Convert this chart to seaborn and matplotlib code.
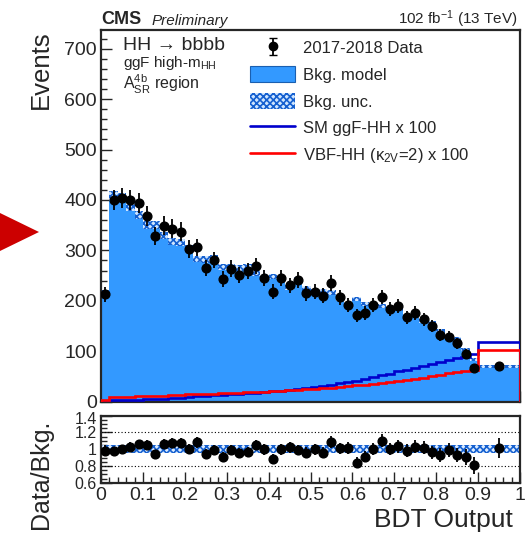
import numpy as np
import pandas as pd
import matplotlib
matplotlib.use("Agg")
import matplotlib.pyplot as plt
import seaborn as sns
from matplotlib.patches import Patch, Polygon
from matplotlib.lines import Line2D
from matplotlib.ticker import MultipleLocator, FixedLocator, FuncFormatter
from matplotlib.transforms import ScaledTranslation

# ---- binning: 45 bins of 0.02 up to 0.9, then one wide bin up to 1.0
bin_edges = np.append(np.linspace(0.0, 0.9, 46), 1.0)

# ---- observed events per bin
data_counts = [213, 400, 404, 400, 393, 368, 329, 349, 343, 337, 303, 306, 265, 281, 243,
               264, 252, 259, 269, 245, 218, 245, 231, 241, 215, 218, 210, 235, 207, 192,
               171, 176, 191, 208, 184, 189, 167, 176, 163, 150, 132, 129, 116, 94, 67, 71]

# ---- background model prediction per bin
bkg_model = [217, 408, 404, 388, 371, 350, 350, 329, 318, 315, 303, 283, 282, 284, 267,
             267, 265, 267, 256, 245, 248, 245, 226, 243, 224, 218, 219, 216, 205, 190,
             204, 193, 191, 189, 184, 183, 170, 171, 160, 156, 142, 130, 125, 104, 83, 70]

# ---- absolute background uncertainty per bin
bkg_unc = [5, 9, 9, 9, 8, 8, 8, 7, 7, 7, 7, 6, 6, 6, 6, 6, 6, 6, 6, 5, 5, 5, 5,
           5, 5, 5, 5, 5, 5, 4, 4, 4, 4, 4, 4, 4, 4, 4, 4, 4, 3, 3, 3, 3, 3, 3]

# ---- relative uncertainty shown in the ratio panel
ratio_band = [0.045] * 46

# ---- signals scaled by 100
sm_ggf_hh = [2, 3, 3, 4, 4, 5, 5, 6, 7, 8, 10, 11, 12, 13, 14, 15, 16, 17, 18, 19, 21, 22, 23,
             25, 27, 29, 31, 34, 37, 39, 42, 46, 49, 52, 55, 60, 63, 66, 70, 74, 78, 82, 86,
             88, 94, 118]
vbf_hh_k2v2 = [3, 9, 10, 10, 11, 11, 12, 12, 13, 14, 15, 15, 16, 16, 17, 18, 18, 19, 20, 20,
               21, 22, 23, 24, 25, 26, 27, 28, 30, 31, 33, 34, 35, 37, 39, 41, 43, 45, 47, 50,
               53, 56, 58, 61, 63, 102]

y_ticks_main = [0, 100, 200, 300, 400, 500, 600, 700]
y_ticks_ratio = [0.6, 0.8, 1.0, 1.2, 1.4]
x_ticks = [0.0, 0.1, 0.2, 0.3, 0.4, 0.5, 0.6, 0.7, 0.8, 0.9, 1.0]

data = np.array(data_counts, float)
bkg = np.array(bkg_model, float)
unc = np.array(bkg_unc, float)
rband = np.array(ratio_band, float)
centers = 0.5 * (bin_edges[:-1] + bin_edges[1:])
data_err = np.sqrt(data)
bkg_df = pd.DataFrame({"bdt": centers, "events": bkg})

sns.set_theme(style="ticks")
plt.rcParams["font.family"] = ["Liberation Sans", "DejaVu Sans"]
plt.rcParams["mathtext.fontset"] = "custom"
plt.rcParams["mathtext.rm"] = "Liberation Sans"
plt.rcParams["mathtext.it"] = "Liberation Sans:italic"
plt.rcParams["mathtext.bf"] = "Liberation Sans:bold"
plt.rcParams["hatch.linewidth"] = 1.2

BKG_BLUE = "#3399ff"
HATCH_BLUE = "#1560d0"

W, H = 525, 533
fig = plt.figure(figsize=(W / 100, H / 100), dpi=100)


def fx(px):
    return px / W


def fy(py):
    return 1 - py / H


ax = fig.add_axes([fx(101), fy(401.7), fx(520) - fx(101), fy(29.5) - fy(401.7)])
rax = fig.add_axes([fx(101), fy(482.7), fx(520) - fx(101), fy(415.7) - fy(482.7)])

# ---- main panel
sns.histplot(data=bkg_df, x="bdt", weights="events", bins=list(bin_edges),
             element="step", fill=True, color=BKG_BLUE, alpha=1.0, linewidth=0, ax=ax)
ax.stairs(bkg + unc, bin_edges, baseline=bkg - unc, fill=True, facecolor="#cfe6ff",
          edgecolor=HATCH_BLUE, linewidth=0, hatch="xxxxx", zorder=2)
ax.stairs(sm_ggf_hh, bin_edges, color="#0000cc", linewidth=1.9, zorder=3)
ax.stairs(vbf_hh_k2v2, bin_edges, color="#ff0000", linewidth=1.9, zorder=3)
ax.errorbar(centers, data, yerr=data_err, fmt="o", color="black", markersize=6.3,
            elinewidth=1.3, capsize=0, zorder=4)

ax.set_xlim(0, 1)
ax.set_ylim(0, 738)
ax.set_xlabel("")
ax.set_ylabel("")
ax.yaxis.set_major_locator(FixedLocator(y_ticks_main))
ax.yaxis.set_minor_locator(MultipleLocator(20))
ax.xaxis.set_major_locator(FixedLocator(x_ticks))
ax.xaxis.set_minor_locator(MultipleLocator(0.02))
ax.tick_params(axis="both", which="both", direction="in", width=1.0)
ax.tick_params(axis="both", which="major", length=8)
ax.tick_params(axis="both", which="minor", length=4)
ax.tick_params(axis="y", labelsize=14, pad=3)
ax.tick_params(axis="x", labelbottom=False)
for s in ax.spines.values():
    s.set_linewidth(1.6)
    s.set_visible(True)

# ---- ratio panel
ratio = data / bkg
ratio_err = data_err / bkg
rax.stairs(1 + rband, bin_edges, baseline=1 - rband, fill=True, facecolor="#dcecff",
           edgecolor=HATCH_BLUE, linewidth=0, hatch="xxxxx", zorder=2)
for yv in (0.8, 1.2):
    rax.axhline(yv, color="black", linestyle=(0, (1, 2)), linewidth=0.8, zorder=1)
rax.errorbar(centers, ratio, yerr=ratio_err, fmt="o", color="black", markersize=6.3,
             elinewidth=1.3, capsize=0, zorder=4)
rax.set_xlim(0, 1)
rax.set_ylim(0.6, 1.4)
rax.yaxis.set_major_locator(FixedLocator(y_ticks_ratio))
rax.yaxis.set_major_formatter(FuncFormatter(lambda v, p: f"{v:g}"))
rax.yaxis.set_minor_locator(MultipleLocator(0.05))
rax.xaxis.set_major_locator(FixedLocator(x_ticks))
rax.xaxis.set_major_formatter(FuncFormatter(lambda v, p: f"{v:g}"))
rax.xaxis.set_minor_locator(MultipleLocator(0.02))
rax.tick_params(axis="both", which="both", direction="in", width=1.0)
rax.tick_params(axis="both", which="major", length=8)
rax.tick_params(axis="both", which="minor", length=4)
rax.tick_params(axis="y", labelsize=11.5, pad=3)
rax.tick_params(axis="x", labelsize=14, pad=3)
for s in rax.spines.values():
    s.set_linewidth(1.6)
    s.set_visible(True)

# nudge the topmost ratio label down a touch so it clears the main panel's zero
fig.canvas.draw()
top_lbl = rax.yaxis.get_majorticklabels()[-1]
top_lbl.set_transform(top_lbl.get_transform()
                      + ScaledTranslation(0, -2 / 100, fig.dpi_scale_trans))

# ---- axis titles
fig.text(fx(41), fy(30), "Events", rotation=90, ha="center", va="top", fontsize=18.5)
fig.text(fx(41), fy(474), "Data/Bkg.", rotation=90, ha="center", va="center", fontsize=18)
fig.text(fx(513), fy(527), "BDT Output", ha="right", va="baseline", fontsize=19)

# ---- header
fig.text(fx(101), fy(24.5), "CMS", ha="left", va="baseline", fontsize=13, fontweight="bold")
fig.text(fx(152), fy(24.5), "Preliminary", ha="left", va="baseline", fontsize=11,
         fontstyle="italic")
fig.text(fx(518), fy(24.5), r"102 fb$^{-1}$ (13 TeV)", ha="right", va="baseline",
         fontsize=11)

# ---- region labels
fig.text(fx(123), fy(49.5), "HH → bbbb", ha="left", va="baseline", fontsize=14)
fig.text(fx(123), fy(66.5), r"ggF high-m$_{\mathregular{HH}}$", ha="left", va="baseline",
         fontsize=11)
fig.text(fx(123), fy(89.5), r"$\mathregular{A^{4b}_{SR}}$ region", ha="left",
         va="baseline", fontsize=11.5)

# ---- legend
data_handle = ax.errorbar([np.nan], [np.nan], yerr=[1], fmt="o", color="black",
                          markersize=6, elinewidth=1.3, capsize=3)
handles = [
    data_handle,
    Patch(facecolor=BKG_BLUE, edgecolor="#1a5fb0", linewidth=0.8),
    Patch(facecolor="#cfe6ff", edgecolor=HATCH_BLUE, linewidth=0, hatch="xxxxx"),
    Line2D([], [], color="#0000cc", linewidth=1.9),
    Line2D([], [], color="#ff0000", linewidth=1.9),
]
labels = ["2017-2018 Data", "Bkg. model", "Bkg. unc.", "SM ggF-HH x 100",
          r"VBF-HH (κ$_{\mathregular{2V}}$=2) x 100"]
fig.legend(handles, labels, loc="upper left", bbox_to_anchor=(fx(250), fy(39.5)),
           bbox_transform=fig.transFigure, frameon=False, fontsize=12,
           handlelength=2.7, handleheight=1.1, handletextpad=0.5, labelspacing=0.6,
           borderpad=0, borderaxespad=0)

# ---- pointer arrow at the left margin
fig.patches.append(Polygon([(fx(0), fy(213)), (fx(0), fy(251)), (fx(39), fy(232))],
                           closed=True, transform=fig.transFigure, facecolor="#cc0000",
                           edgecolor="none"))

fig.savefig("out.png", dpi=100)
